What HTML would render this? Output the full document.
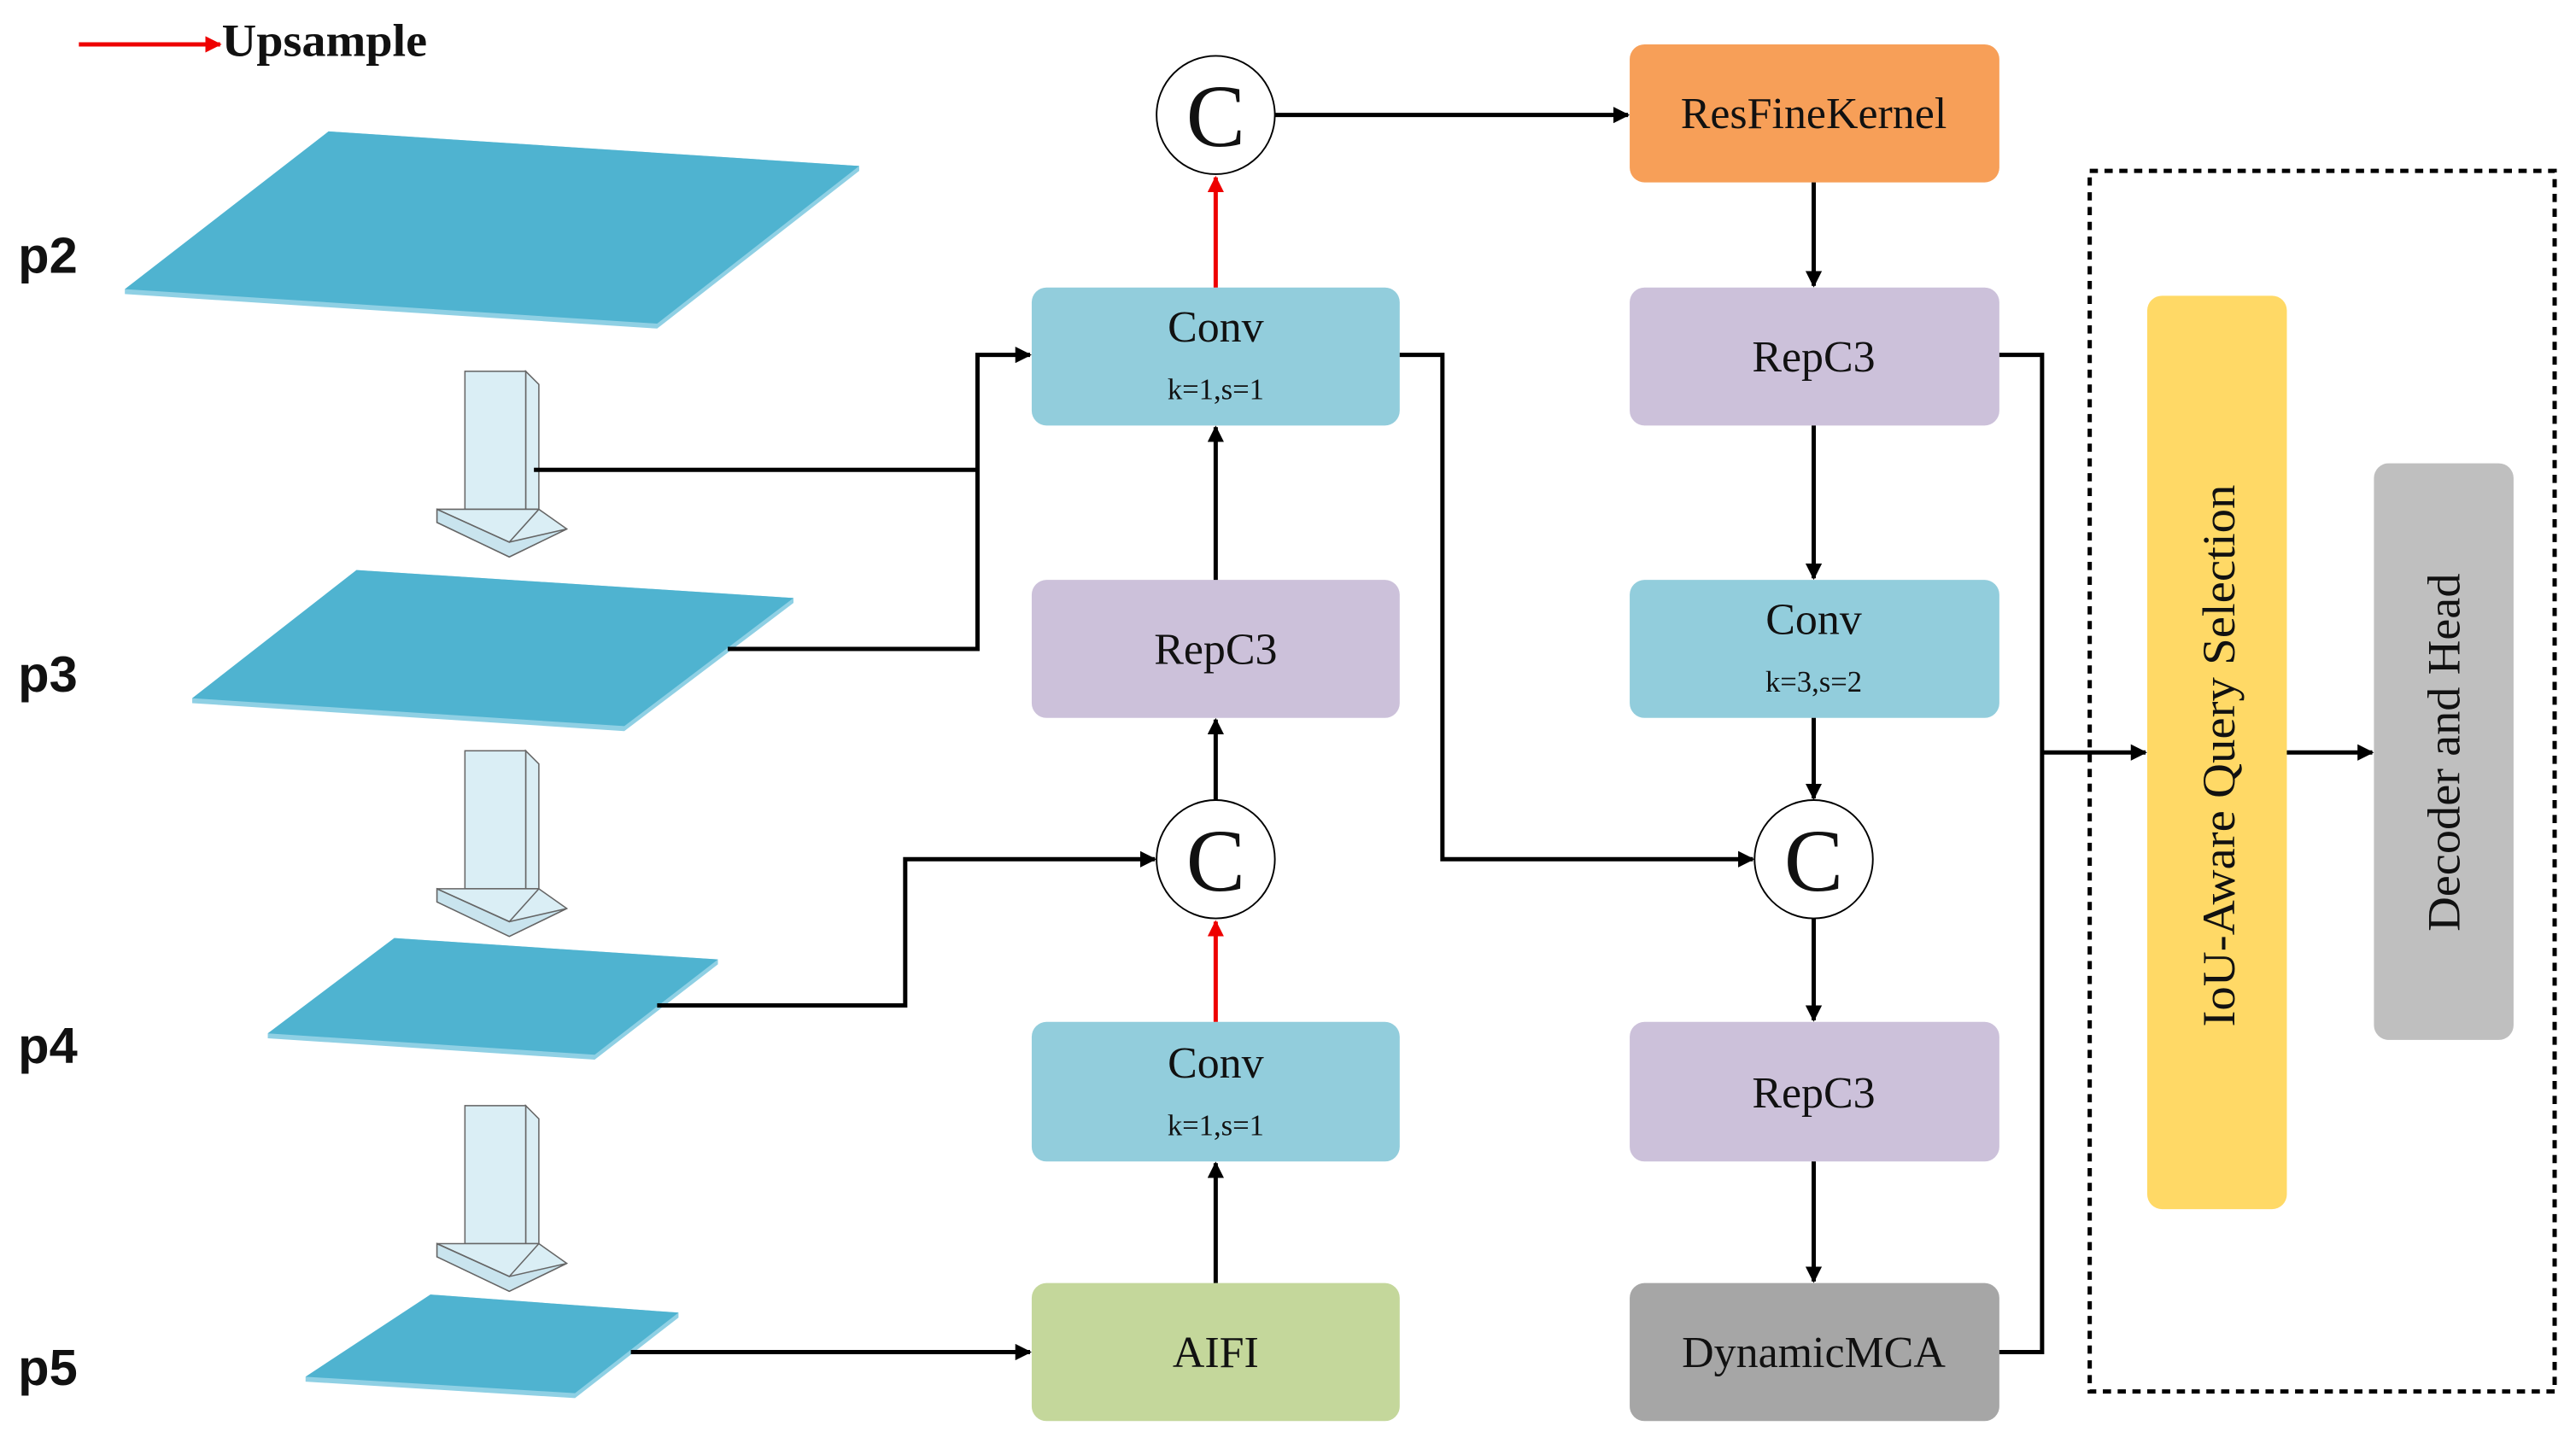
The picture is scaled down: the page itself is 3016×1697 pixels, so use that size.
<!DOCTYPE html>
<html><head><meta charset="utf-8"><style>
html,body{margin:0;padding:0;background:#fff;width:3016px;height:1697px;overflow:hidden}
svg{display:block}
.t{font-family:"Liberation Serif",serif;fill:#111;text-anchor:middle}
.p{font-family:"Liberation Sans",sans-serif;font-weight:bold;font-size:31px;fill:#111}
.l{stroke:#000;stroke-width:2.6;fill:none}
</style></head><body>
<svg width="3016" height="1697" viewBox="0 0 1568 882" preserveAspectRatio="none" xmlns="http://www.w3.org/2000/svg">
<defs>
<marker id="a" markerWidth="10" markerHeight="10" refX="9" refY="5" orient="auto" markerUnits="userSpaceOnUse"><path d="M0,0 L10,5 L0,10 z" fill="#000"/></marker>
<marker id="r" markerWidth="10" markerHeight="10" refX="9" refY="5" orient="auto" markerUnits="userSpaceOnUse"><path d="M0,0 L10,5 L0,10 z" fill="#e00"/></marker>
</defs>
<line x1="48" y1="27" x2="134" y2="27" stroke="#e00" stroke-width="2.6" marker-end="url(#r)"/>
<text x="135" y="34" textLength="125" lengthAdjust="spacingAndGlyphs" style="font-family:'Liberation Serif',serif;font-weight:bold;font-size:28px" fill="#111">Upsample</text>
<text class="p" x="11" y="166">p2</text>
<text class="p" x="11" y="421">p3</text>
<text class="p" x="11" y="647">p4</text>
<text class="p" x="11" y="843">p5</text>
<g fill="#4fb3d0">
<polygon points="200,80 523,101 523,104 400,200 76,179 76,176" fill="#8fd0e4"/>
<polygon points="200,80 523,101 400,197 76,176"/>
<polygon points="217,347 483,364 483,367 380,445 117,428 117,425" fill="#8fd0e4"/>
<polygon points="217,347 483,364 380,442 117,425"/>
<polygon points="240,571 437,584 437,587 362,645 163,632 163,629" fill="#8fd0e4"/>
<polygon points="240,571 437,584 362,642 163,629"/>
<polygon points="262,788 413,799 413,802 350,851 186,841 186,838" fill="#8fd0e4"/>
<polygon points="262,788 413,799 350,848 186,838"/>
</g>
<g fill="#daeef5" stroke="#666" stroke-width="0.8">
<g id="ba">
<polygon points="320,226 328,234 328,310 320,310"/>
<rect x="283" y="226" width="37" height="84"/>
<polygon points="266,310 328,310 345,322 310,339 266,318" />
<polygon points="266,310 310,330 345,322 310,339 266,318" fill="#c9e4ee"/>
<polyline points="266,310 310,330 328,310" fill="none"/>
</g>
<use href="#ba" transform="translate(0,231)"/>
<use href="#ba" transform="translate(0,447)"/>
</g>
<g>
<rect x="628" y="175" width="224" height="84" rx="9" fill="#92cddc"/>
<rect x="628" y="353" width="224" height="84" rx="9" fill="#ccc1da"/>
<rect x="628" y="622" width="224" height="85" rx="9" fill="#92cddc"/>
<rect x="628" y="781" width="224" height="84" rx="9" fill="#c4d79b"/>
<rect x="992" y="27" width="225" height="84" rx="9" fill="#f79f58"/>
<rect x="992" y="175" width="225" height="84" rx="9" fill="#ccc1da"/>
<rect x="992" y="353" width="225" height="84" rx="9" fill="#92cddc"/>
<rect x="992" y="622" width="225" height="85" rx="9" fill="#ccc1da"/>
<rect x="992" y="781" width="225" height="84" rx="9" fill="#a6a6a6"/>
<rect x="1307" y="180" width="85" height="556" rx="9" fill="#ffd966"/>
<rect x="1445" y="282" width="85" height="351" rx="9" fill="#bfbfbf"/>
</g>
<rect x="1272" y="104" width="283" height="743" fill="none" stroke="#000" stroke-width="2.6" stroke-dasharray="5,4"/>
<g fill="#fff" stroke="#000" stroke-width="1">
<circle cx="740" cy="70" r="36"/><circle cx="740" cy="523" r="36"/><circle cx="1104" cy="523" r="36"/>
</g>
<g class="t" style="font-size:54px">
<text x="740" y="89">C</text><text x="740" y="542">C</text><text x="1104" y="542">C</text>
</g>
<g class="t" style="font-size:27px">
<text x="740" y="208">Conv</text>
<text x="740" y="404">RepC3</text>
<text x="740" y="656">Conv</text>
<text x="740" y="832">AIFI</text>
<text x="1104" y="78">ResFineKernel</text>
<text x="1104" y="226">RepC3</text>
<text x="1104" y="386">Conv</text>
<text x="1104" y="674">RepC3</text>
<text x="1104" y="832">DynamicMCA</text>
</g>
<g class="t" style="font-size:18px">
<text x="740" y="243">k=1,s=1</text>
<text x="740" y="691">k=1,s=1</text>
<text x="1104" y="421">k=3,s=2</text>
</g>
<g class="t" style="font-size:28px">
<text transform="translate(1360,460) rotate(-90)" textLength="330" lengthAdjust="spacingAndGlyphs">IoU-Aware Query Selection</text>
<text transform="translate(1497,458) rotate(-90)" textLength="218" lengthAdjust="spacingAndGlyphs">Decoder and Head</text>
</g>
<line x1="740" y1="175" x2="740" y2="108" stroke="#e00" stroke-width="2.6" marker-end="url(#r)"/>
<line x1="740" y1="622" x2="740" y2="561" stroke="#e00" stroke-width="2.6" marker-end="url(#r)"/>
<line class="l" x1="776" y1="70" x2="991" y2="70" marker-end="url(#a)"/>
<line class="l" x1="1104" y1="111" x2="1104" y2="174" marker-end="url(#a)"/>
<line class="l" x1="1104" y1="259" x2="1104" y2="352" marker-end="url(#a)"/>
<line class="l" x1="1104" y1="437" x2="1104" y2="486" marker-end="url(#a)"/>
<line class="l" x1="1104" y1="559" x2="1104" y2="621" marker-end="url(#a)"/>
<line class="l" x1="1104" y1="707" x2="1104" y2="780" marker-end="url(#a)"/>
<line class="l" x1="740" y1="353" x2="740" y2="260" marker-end="url(#a)"/>
<line class="l" x1="740" y1="487" x2="740" y2="438" marker-end="url(#a)"/>
<line class="l" x1="740" y1="781" x2="740" y2="708" marker-end="url(#a)"/>
<polyline class="l" points="325,286 595,286"/>
<polyline class="l" points="443,395 595,395 595,216 627,216" marker-end="url(#a)"/>
<polyline class="l" points="400,612 551,612 551,523 703,523" marker-end="url(#a)"/>
<line class="l" x1="384" y1="823" x2="627" y2="823" marker-end="url(#a)"/>
<polyline class="l" points="852,216 878,216 878,523 1067,523" marker-end="url(#a)"/>
<polyline class="l" points="1217,216 1243,216 1243,823 1217,823"/>
<line class="l" x1="1243" y1="458" x2="1306" y2="458" marker-end="url(#a)"/>
<line class="l" x1="1392" y1="458" x2="1444" y2="458" marker-end="url(#a)"/>
</svg>
</body></html>
